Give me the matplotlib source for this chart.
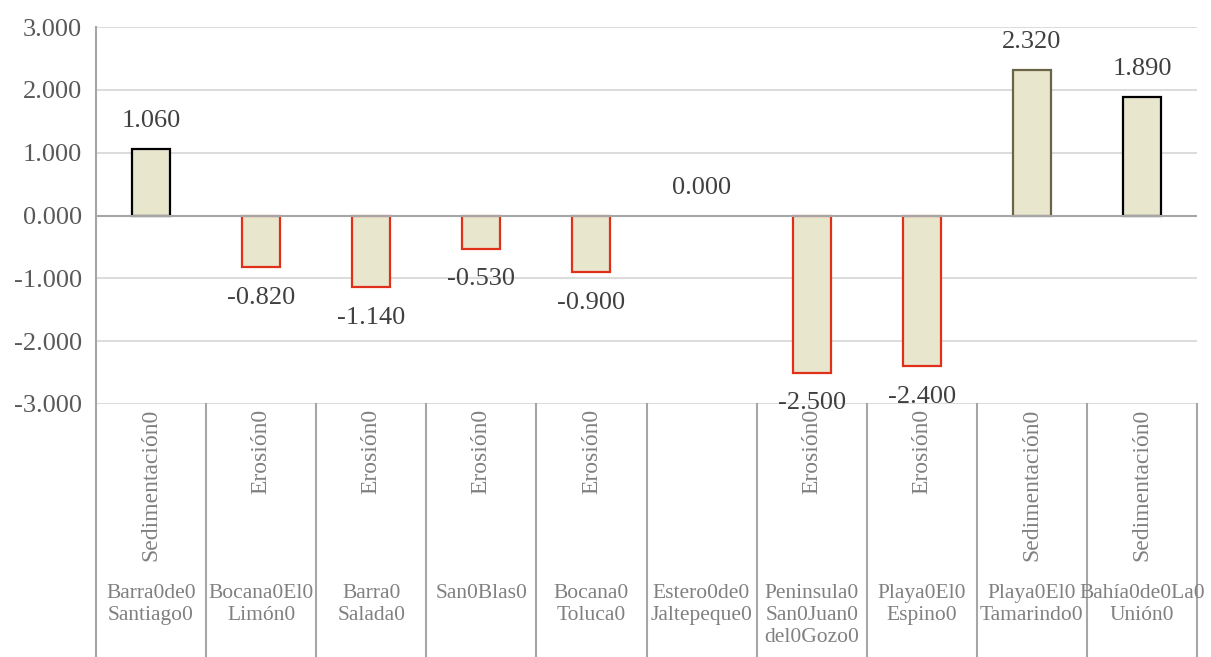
import matplotlib
matplotlib.use("Agg")
import matplotlib.pyplot as plt
import matplotlib.transforms as mtransforms
import numpy as np

places = ["Barra0de0\nSantiago0", "Bocana0El0\nLimón0", "Barra0\nSalada0", "San0Blas0",
          "Bocana0\nToluca0", "Estero0de0\nJaltepeque0", "Peninsula0\nSan0Juan0\ndel0Gozo0",
          "Playa0El0\nEspino0", "Playa0El0\nTamarindo0", "Bahía0de0La0\nUnión0"]
processes = ["Sedimentación0", "Erosión0", "Erosión0", "Erosión0", "Erosión0", "",
             "Erosión0", "Erosión0", "Sedimentación0", "Sedimentación0"]
values = [1.060, -0.820, -1.140, -0.530, -0.900, 0.000, -2.500, -2.400, 2.320, 1.890]
yticks = [-3, -2, -1, 0, 1, 2, 3]

edge_colors = ["#000000", "#e0301a", "#e0301a", "#e0301a", "#e0301a", "none",
               "#e0301a", "#e0301a", "#6b6548", "#000000"]
fill = "#e8e6cd"
font = "Liberation Serif"
plt.rcParams['font.family'] = [font, 'DejaVu Serif']

W, H = 1211, 657
fig = plt.figure(figsize=(W/100, H/100), dpi=100)
ax = fig.add_axes([96/W, 1-404/H, (1197-96)/W, (404-27)/H])

x = np.arange(len(values))
ax.bar(x, values, width=0.345, color=fill, edgecolor=edge_colors, linewidth=1.6, zorder=3)
ax.set_xlim(-0.5, len(values)-0.5)
ax.set_ylim(-3, 3)
ax.set_yticks(yticks)
ax.set_yticklabels([f"{v:.3f}" for v in yticks], fontsize=19, color="#595959")
ax.tick_params(axis='y', length=0, pad=10)
ax.set_xticks([])
for s in ["top", "right", "bottom"]:
    ax.spines[s].set_visible(False)
ax.spines["left"].set_color("#a6a6a6")
ax.spines["left"].set_linewidth(1.5)
ax.spines["left"].set_bounds(-3, 3)
ax.grid(axis='y', color="#d9d9d9", linewidth=1.3, zorder=0)
ax.set_axisbelow(True)
ax.axhline(0, color="#a6a6a6", linewidth=1.5, zorder=4)

for xi, v in zip(x, values):
    off = 20 if v >= 0 else -22
    ax.annotate(f"{v:.3f}", (xi, v), xytext=(0, off), textcoords="offset points",
                ha="center", va="center", fontsize=19, color="#404040", zorder=5)

trans = mtransforms.blended_transform_factory(ax.transData, ax.transAxes)
ax_h = (404-27)
bottom_axes = -(657-404)/ax_h
for b in np.arange(-0.5, len(values), 1.0):
    ax.plot([b, b], [0, bottom_axes], transform=trans, color="#a6a6a6",
            linewidth=1.5, clip_on=False)

proc_y = -(409-404)/ax_h
place_y = -(584-404)/ax_h
for xi, p, pl in zip(x, processes, places):
    if p:
        ax.text(xi, proc_y, p, transform=trans, rotation=90, ha="center", va="top",
                fontsize=17, color="#808080", clip_on=False)
    ax.text(xi, place_y, pl, transform=trans, ha="center", va="top",
            fontsize=15.5, color="#808080", linespacing=1.2, clip_on=False)

fig.savefig("out.png", dpi=100)
